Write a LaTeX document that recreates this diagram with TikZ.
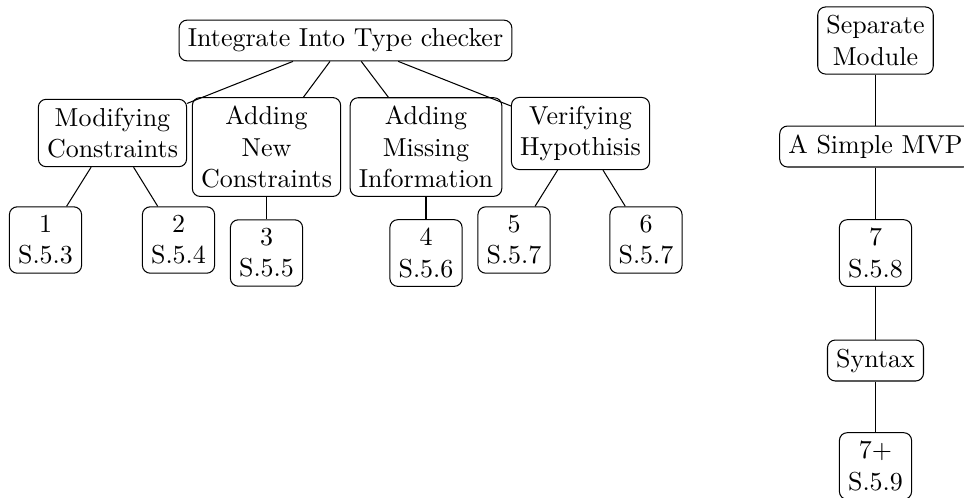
\documentclass[tikz,border=0pt]{standalone}
\begin{document}
\begin{tikzpicture}[x=0.385pt,y=-0.385pt,
  box/.style={draw, rounded corners=3pt, align=center, font=\normalsize},
  link/.style={draw}]
\useasboundingbox (0,0) rectangle (964,497);

% type checker integration tree
\node[box] (root) at (345.5,40.5) {Integrate Into Type checker};
\node[box] (mod) at (112.5,133) {Modifying\\Constraints};
\node[box] (new) at (266.5,147) {Adding\\New\\Constraints};
\node[box] (mis) at (426,147) {Adding\\Missing\\Information};
\node[box] (ver) at (580.5,133.5) {Verifying\\Hypothisis};

\node[box] (c1) at (45.5,240) {1\\S.5.3};
\node[box] (c2) at (178.5,240) {2\\S.5.4};
\node[box] (c3) at (266.5,253) {3\\S.5.5};
\node[box] (c4) at (426,253) {4\\S.5.6};
\node[box] (c5) at (514,240) {5\\S.5.7};
\node[box] (c6) at (646,240) {6\\S.5.7};

\foreach \k in {mod,new,mis,ver} \path[link] (root) -- (\k);
\path[link] (mod) -- (c1);
\path[link] (mod) -- (c2);
\path[link] (new) -- (c3);
\path[link] (mis) -- (c4);
\path[link] (ver) -- (c5);
\path[link] (ver) -- (c6);

% separate module chain
\node[box] (sep) at (875.5,40.5) {Separate\\Module};
\node[box] (mvp) at (875.5,146.5) {A Simple MVP};
\node[box] (c7) at (875.5,253) {7\\S.5.8};
\node[box] (syn) at (875.5,360.5) {Syntax};
\node[box] (c8) at (875.5,466) {7+\\S.5.9};

\path[link] (sep) -- (mvp);
\path[link] (mvp) -- (c7);
\path[link] (c7) -- (syn);
\path[link] (syn) -- (c8);
\end{tikzpicture}
\end{document}
